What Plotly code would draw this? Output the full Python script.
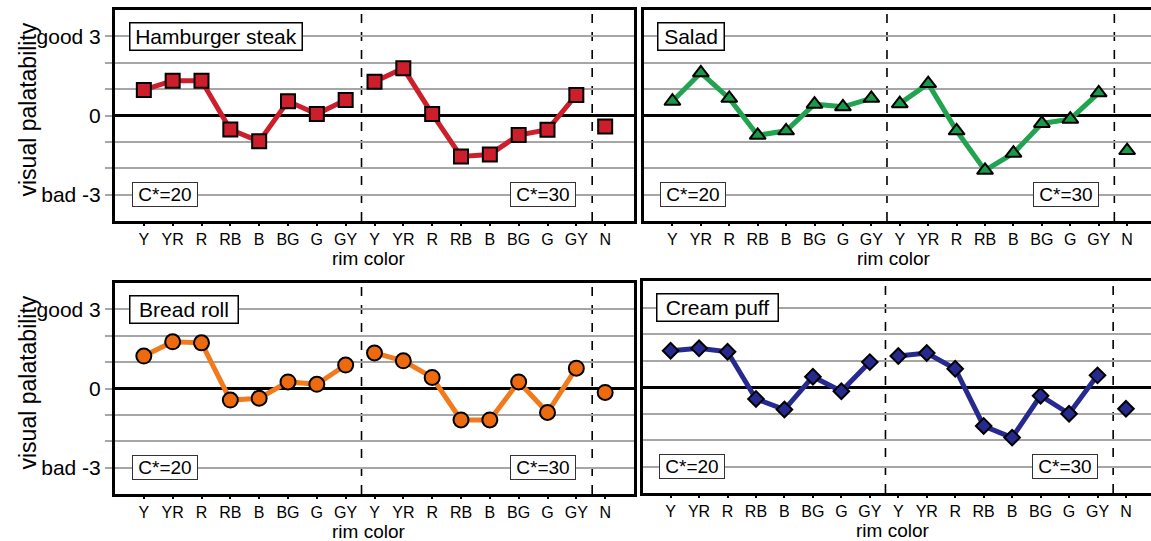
import plotly.graph_objects as go

# ---------------- data ----------------
hues = ["Y", "YR", "R", "RB", "B", "BG", "G", "GY"]
tick_labels = hues + hues + ["N"]

foods = ["Hamburger steak", "Salad", "Bread roll", "Cream puff"]

hamburger_c20 = [0.97, 1.32, 1.32, -0.53, -0.98, 0.54, 0.06, 0.59]
hamburger_c30 = [1.28, 1.79, 0.06, -1.55, -1.48, -0.74, -0.54, 0.78]
hamburger_n = -0.42

salad_c20 = [0.54, 1.62, 0.65, -0.75, -0.58, 0.43, 0.33, 0.65]
salad_c30 = [0.45, 1.21, -0.58, -2.08, -1.43, -0.30, -0.14, 0.86]
salad_n = -1.33

bread_c20 = [1.23, 1.77, 1.73, -0.44, -0.37, 0.25, 0.16, 0.89]
bread_c30 = [1.35, 1.05, 0.42, -1.19, -1.19, 0.25, -0.91, 0.77]
bread_n = -0.15

cream_c20 = [1.37, 1.46, 1.33, -0.45, -0.85, 0.39, -0.16, 0.94]
cream_c30 = [1.17, 1.28, 0.69, -1.47, -1.91, -0.33, -1.01, 0.44]
cream_n = -0.82

series = [
    (hamburger_c20, hamburger_c30, hamburger_n),
    (salad_c20, salad_c30, salad_n),
    (bread_c20, bread_c30, bread_n),
    (cream_c20, cream_c30, cream_n),
]

# ---------------- styles ----------------
FONT = "Arial, Liberation Sans, sans-serif"
W, H = 1151, 541
styles = [
    dict(color="#CD1F2B", line="#CD1F2B", symbol="square", size=14),
    dict(color="#179B49", line="#22A34F", symbol="triangle-up", size=14),
    dict(color="#EE6A0E", line="#F07A1C", symbol="circle", size=15),
    dict(color="#262A8E", line="#262A8E", symbol="diamond", size=12),
]
# panel pixel boxes: (left, right, top, bottom) and x range
panels = [
    dict(px=(115, 634), py=(10, 221), xr=(-1, 17.0)),
    dict(px=(644, W), py=(10, 221), xr=(-1, 16.84)),
    dict(px=(115, 634), py=(283, 494), xr=(-1, 17.0)),
    dict(px=(643, W), py=(281, 493), xr=(-0.97, 16.88)),
]
title_widths = [171, 65, 107, 120]

fig = go.Figure()
layout = dict(
    template="none",
    width=W, height=H, margin=dict(l=0, r=0, t=0, b=0, autoexpand=False),
    paper_bgcolor="white", plot_bgcolor="white", showlegend=False,
    font=dict(family=FONT, color="black"),
)
shapes, annotations = [], []

for i, (food, (c20, c30, nval), st, p) in enumerate(zip(foods, series, styles, panels)):
    k = "" if i == 0 else str(i + 1)
    xa, ya = "x" + k, "y" + k
    xs = list(range(8)) + [None] + list(range(8, 16)) + [None, 16]
    ys = list(c20) + [None] + list(c30) + [None, nval]
    fig.add_trace(go.Scatter(
        x=xs, y=ys, mode="lines+markers", xaxis=xa, yaxis=ya,
        connectgaps=False, cliponaxis=False,
        line=dict(color=st["line"], width=5),
        marker=dict(symbol=st["symbol"], size=st["size"], color=st["color"],
                    line=dict(color="black", width=2)),
    ))
    x0, x1 = p["px"]
    y0, y1 = p["py"]
    layout["xaxis" + k] = dict(
        domain=[x0 / W, x1 / W], anchor=ya, range=list(p["xr"]),
        automargin=False,
        tickmode="array", tickvals=list(range(17)), ticktext=tick_labels,
        ticks="outside", ticklen=2, tickwidth=2, tickcolor="black",
        showgrid=False, zeroline=False,
        showline=True, linewidth=3, linecolor="black", mirror=True,
        tickfont=dict(size=16, family=FONT, color="black"),
    )
    layout["yaxis" + k] = dict(
        domain=[1 - y1 / H, 1 - y0 / H], anchor=xa, range=[-4, 4],
        automargin=False,
        tickmode="array", tickvals=[-3, -2, -1, 0, 1, 2, 3],
        ticktext=(["bad -3", "", "", "0", "", "", "good 3"] if i in (0, 2)
                  else [""] * 7),
        ticks="outside" if i in (0, 2) else "", ticklen=7, tickwidth=1.5,
        tickcolor="#A6A6A6",
        showgrid=True, gridcolor="#A6A6A6", gridwidth=1.5,
        zeroline=True, zerolinecolor="black", zerolinewidth=3,
        showline=True, linewidth=3, linecolor="black",
        mirror=True if i in (0, 2) else False,
        tickfont=dict(size=21, family=FONT, color="black"),
    )
    # dashed separators
    for xv in (7.55, 15.55):
        shapes.append(dict(type="line", xref=xa, yref=ya + " domain",
                           x0=xv, x1=xv, y0=0, y1=1, layer="below",
                           line=dict(color="black", width=1.6, dash="dash")))
    # food name box
    annotations.append(dict(
        text=food, xref=xa, yref=ya, x=-0.53, y=3, xanchor="left", yanchor="middle",
        showarrow=False, font=dict(size=21, family=FONT), bgcolor="white",
        bordercolor="black", borderwidth=1.5, borderpad=0,
        width=title_widths[i], height=26,
    ))
    for txt, xv, xanc in (("C*=20", -0.42, "left"), ("C*=30", 15.0, "right")):
        annotations.append(dict(
            text=txt, xref=xa, yref=ya, x=xv, y=-3, xanchor=xanc, yanchor="middle",
            showarrow=False, font=dict(size=19, family=FONT), bgcolor="white",
            bordercolor="#333333", borderwidth=1, borderpad=0, width=64, height=23,
        ))
    # axis titles
    annotations.append(dict(
        text="rim color", xref=xa, yref="paper", x=7.8, y=1 - (y1 + 37) / H,
        xanchor="center", yanchor="middle", showarrow=False,
        font=dict(size=19, family=FONT),
    ))
    if i in (0, 2):
        annotations.append(dict(
            text="visual palatability", xref="paper", yref="paper",
            x=27 / W, y=1 - ((y0 + y1) / 2 - 6) / H, textangle=-90,
            xanchor="center", yanchor="middle", showarrow=False,
            font=dict(size=23, family=FONT),
        ))

layout["shapes"] = shapes
layout["annotations"] = annotations
fig.update_layout(**layout)
fig.write_html(
    "out.html",
    config={"displayModeBar": False},
    post_script="document.body.style.margin='0';document.body.style.overflow='hidden';",
)
